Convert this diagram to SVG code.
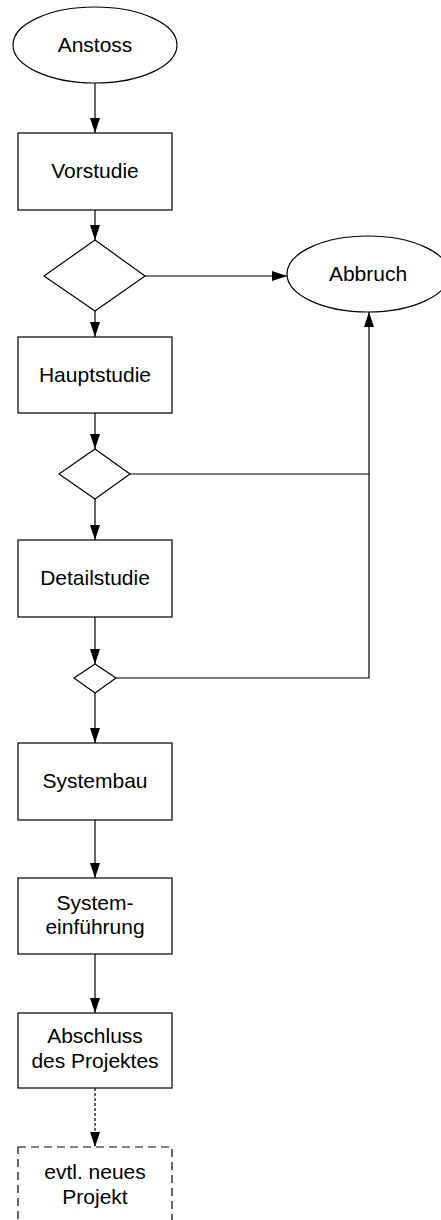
<svg xmlns="http://www.w3.org/2000/svg" width="441" height="1220" viewBox="0 0 441 1220">
  <style>
    .shape { fill: #fff; stroke: #000; stroke-width: 1.2; }
    .dashed { stroke-dasharray: 8 5; }
    .label { font-family: "Liberation Sans", Arial, sans-serif; font-size: 21px; fill: #000; text-anchor: middle; }
    .edge { fill: none; stroke: #000; stroke-width: 1.2; }
    .dotted { stroke-dasharray: 3 2; }
  </style>
  <defs>
    <marker id="arrow" viewBox="0 0 15 10" refX="15" refY="5" markerWidth="15" markerHeight="10" markerUnits="userSpaceOnUse" orient="auto">
      <path d="M0,0 L15,5 L0,10 Z" fill="#000"/>
    </marker>
  </defs>
  <rect width="441" height="1220" fill="#fff"/>

  <!-- connectors -->
  <g id="connectors">
    <path class="edge" d="M95,83 V133" marker-end="url(#arrow)"/>
    <path class="edge" d="M95,210 V240" marker-end="url(#arrow)"/>
    <path class="edge" d="M145,276 H287" marker-end="url(#arrow)"/>
    <path class="edge" d="M95,311 V337" marker-end="url(#arrow)"/>
    <path class="edge" d="M95,413 V449" marker-end="url(#arrow)"/>
    <path class="edge" d="M130,474 H369"/>
    <path class="edge" d="M95,499 V540" marker-end="url(#arrow)"/>
    <path class="edge" d="M95,617 V664" marker-end="url(#arrow)"/>
    <path class="edge" d="M116,678 H369 V312" marker-end="url(#arrow)"/>
    <path class="edge" d="M95,693 V743" marker-end="url(#arrow)"/>
    <path class="edge" d="M95,820 V878" marker-end="url(#arrow)"/>
    <path class="edge" d="M95,954 V1013" marker-end="url(#arrow)"/>
    <path class="edge dotted" d="M95,1088 V1147" marker-end="url(#arrow)"/>
  </g>

  <!-- nodes -->
  <g id="anstoss">
    <ellipse class="shape" cx="95" cy="45" rx="82" ry="38"/>
    <text class="label" x="95" y="52">Anstoss</text>
  </g>
  <g id="vorstudie">
    <rect class="shape" x="18" y="133" width="154" height="77"/>
    <text class="label" x="95" y="178">Vorstudie</text>
  </g>
  <g id="entscheid1">
    <polygon class="shape" points="95,240 145,276 95,311 44,276"/>
  </g>
  <g id="abbruch">
    <ellipse class="shape" cx="368" cy="274" rx="81" ry="38"/>
    <text class="label" x="368" y="281">Abbruch</text>
  </g>
  <g id="hauptstudie">
    <rect class="shape" x="18" y="337" width="154" height="76"/>
    <text class="label" x="95" y="382">Hauptstudie</text>
  </g>
  <g id="entscheid2">
    <polygon class="shape" points="95,449 130,474 95,499 59,474"/>
  </g>
  <g id="detailstudie">
    <rect class="shape" x="18" y="540" width="154" height="77"/>
    <text class="label" x="95" y="585">Detailstudie</text>
  </g>
  <g id="entscheid3">
    <polygon class="shape" points="95,664 116,678 95,693 74,678"/>
  </g>
  <g id="systembau">
    <rect class="shape" x="18" y="743" width="154" height="77"/>
    <text class="label" x="95" y="788">Systembau</text>
  </g>
  <g id="systemeinfuehrung">
    <rect class="shape" x="18" y="878" width="154" height="76"/>
    <text class="label" x="95" y="910">System-</text>
    <text class="label" x="95" y="934">einführung</text>
  </g>
  <g id="abschluss">
    <rect class="shape" x="18" y="1013" width="154" height="75"/>
    <text class="label" x="95" y="1043">Abschluss</text>
    <text class="label" x="95" y="1068">des Projektes</text>
  </g>
  <g id="neues-projekt">
    <rect class="shape dashed" x="18" y="1147" width="154" height="77"/>
    <text class="label" x="95" y="1179">evtl. neues</text>
    <text class="label" x="95" y="1204">Projekt</text>
  </g>
</svg>
